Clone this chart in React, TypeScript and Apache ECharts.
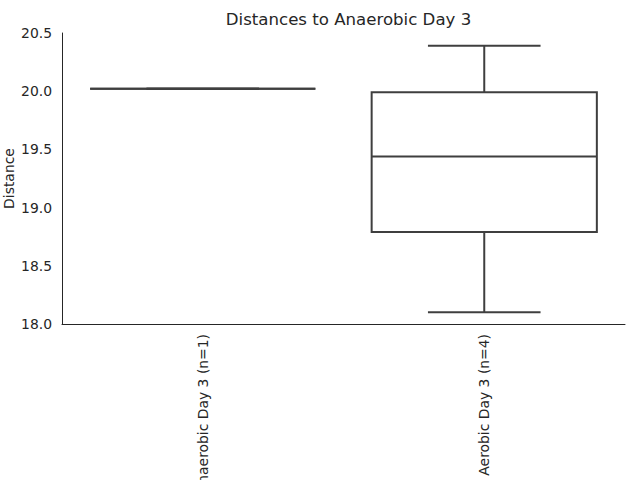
import React, { useEffect, useRef } from "react";
import * as echarts from "echarts";

const categories = ["Anaerobic Day 3 (n=1)", "Aerobic Day 3 (n=4)"];
// [min, q1, median, q3, max]
const boxStats = [
  [20.02, 20.02, 20.02, 20.02, 20.02],
  [18.1, 18.79, 19.44, 19.99, 20.39],
];
const yTicks = { min: 18.0, max: 20.5, interval: 0.5 };
const titleText = "Distances to Anaerobic Day 3";
const yLabel = "Distance";

const FONT = "DejaVu Sans";
const TEXT = "#262626";
const LINE = "#3f3f3f";

export default function App() {
  const ref = useRef<HTMLDivElement>(null);
  useEffect(() => {
    if (!ref.current) return;
    const chart = echarts.init(ref.current, undefined, { renderer: "svg" });
    const data = boxStats.map((s, i) => [i, ...s]);
    chart.setOption({
      animation: false,
      backgroundColor: "#ffffff",
      title: {
        text: titleText,
        left: 343.5,
        top: 6,
        textAlign: "center",
        textStyle: { fontFamily: FONT, fontSize: 16.6, fontWeight: "normal", color: TEXT },
      },
      grid: {
        left: 62,
        right: 15,
        top: 33,
        bottom: 156,
        containLabel: false,
        outerBoundsMode: "none",
      },
      xAxis: {
        type: "category",
        data: categories,
        axisLine: { show: true, lineStyle: { color: TEXT, width: 1 } },
        axisTick: { show: false },
        splitLine: { show: false },
        axisLabel: {
          rotate: 90,
          margin: 10,
          fontFamily: FONT,
          fontSize: 13.9,
          color: TEXT,
        },
      },
      yAxis: {
        type: "value",
        min: yTicks.min,
        max: yTicks.max,
        interval: yTicks.interval,
        name: yLabel,
        nameLocation: "middle",
        nameGap: 46,
        nameMoveOverlap: false,
        nameTextStyle: { fontFamily: FONT, fontSize: 13.9, color: TEXT },
        axisLine: { show: true, lineStyle: { color: TEXT, width: 1 } },
        axisTick: { show: false },
        splitLine: { show: false },
        axisLabel: {
          margin: 10,
          fontFamily: FONT,
          fontSize: 13.9,
          color: TEXT,
          formatter: (v: number) => v.toFixed(1),
        },
      },
      series: [
        {
          type: "custom",
          data,
          encode: { x: 0, y: [1, 2, 3, 4, 5] },
          renderItem: (params: any, api: any) => {
            const idx = api.value(0);
            const vmin = api.value(1);
            const q1 = api.value(2);
            const med = api.value(3);
            const q3 = api.value(4);
            const vmax = api.value(5);
            const band = api.size([1, 0])[0];
            const boxW = band * 0.8;
            const capW = boxW / 2;
            const pMin = api.coord([idx, vmin]);
            const pQ1 = api.coord([idx, q1]);
            const pMed = api.coord([idx, med]);
            const pQ3 = api.coord([idx, q3]);
            const pMax = api.coord([idx, vmax]);
            const cx = pMed[0];
            const style = { stroke: LINE, lineWidth: 2, fill: "none" };
            return {
              type: "group",
              children: [
                {
                  type: "line",
                  shape: { x1: cx, y1: pQ1[1], x2: cx, y2: pMin[1] },
                  style,
                },
                {
                  type: "line",
                  shape: { x1: cx, y1: pQ3[1], x2: cx, y2: pMax[1] },
                  style,
                },
                {
                  type: "line",
                  shape: { x1: cx - capW / 2, y1: pMin[1], x2: cx + capW / 2, y2: pMin[1] },
                  style,
                },
                {
                  type: "line",
                  shape: { x1: cx - capW / 2, y1: pMax[1], x2: cx + capW / 2, y2: pMax[1] },
                  style,
                },
                {
                  type: "rect",
                  shape: { x: cx - boxW / 2, y: pQ3[1], width: boxW, height: pQ1[1] - pQ3[1] },
                  style: { stroke: LINE, lineWidth: 2, fill: "#ffffff" },
                },
                {
                  type: "line",
                  shape: { x1: cx - boxW / 2, y1: pMed[1], x2: cx + boxW / 2, y2: pMed[1] },
                  style,
                },
              ],
            };
          },
        },
      ],
    });
    return () => chart.dispose();
  }, []);
  return (
    <div
      ref={ref}
      style={{ position: "absolute", left: 0, top: 0, width: 640, height: 480 }}
    />
  );
}
